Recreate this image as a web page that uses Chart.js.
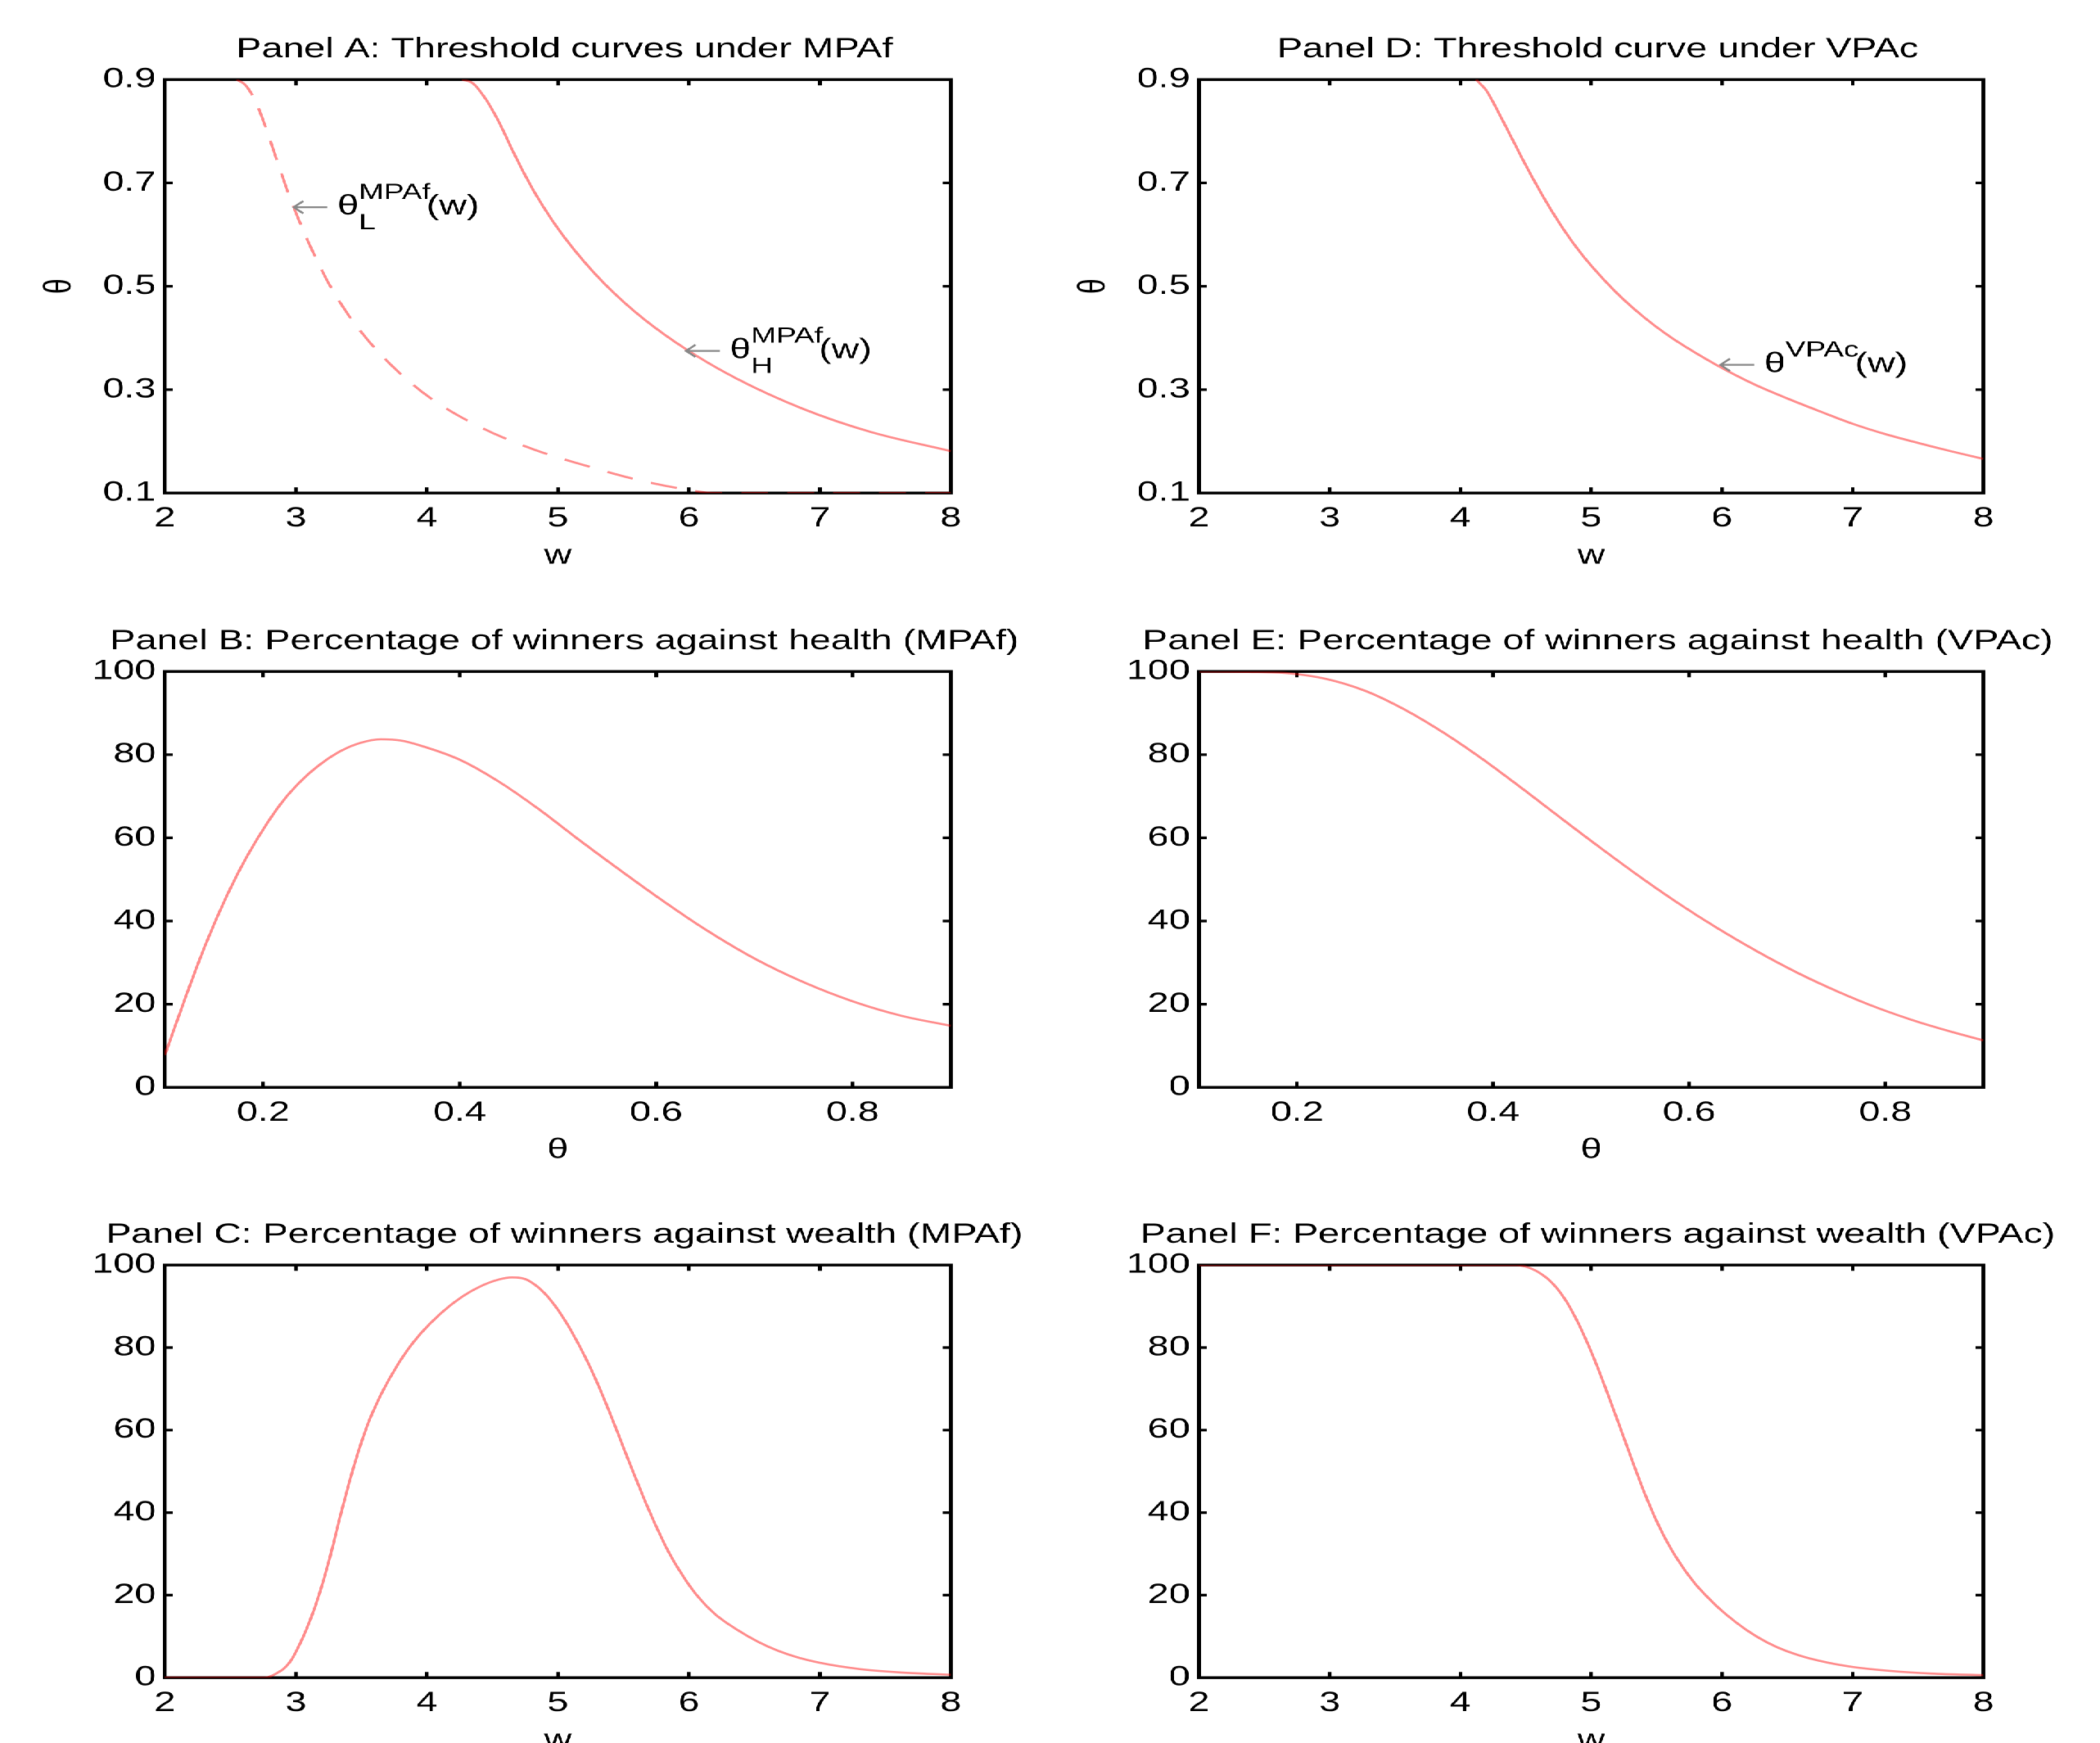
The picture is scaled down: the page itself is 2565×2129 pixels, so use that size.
<!DOCTYPE html>
<html><head><meta charset="utf-8">
<script src="https://cdn.jsdelivr.net/npm/chart.js@4.4.1/dist/chart.umd.min.js"></script>
<style>
html,body{margin:0;padding:0;background:#fff;overflow:hidden;width:2565px;height:2129px}
#stage{position:absolute;left:0;top:0;width:1873px;height:2129px;transform:scaleX(1.37);transform-origin:0 0}
#stage canvas{position:absolute}
</style></head><body><div id="stage"></div>
<script>
// ---------------- data ----------------
const panelTitles = [
  'Panel A: Threshold curves under MPAf',
  'Panel B: Percentage of winners against health (MPAf)',
  'Panel C: Percentage of winners against wealth (MPAf)',
  'Panel D: Threshold curve under VPAc',
  'Panel E: Percentage of winners against health (VPAc)',
  'Panel F: Percentage of winners against wealth (VPAc)'
];
const wTicks = [2, 3, 4, 5, 6, 7, 8];
const wTickLabels = ['2', '3', '4', '5', '6', '7', '8'];
const thetaTicks = [0.1, 0.3, 0.5, 0.7, 0.9];
const thetaTickLabels = ['0.1', '0.3', '0.5', '0.7', '0.9'];
const healthTicks = [0.2, 0.4, 0.6, 0.8];
const healthTickLabels = ['0.2', '0.4', '0.6', '0.8'];
const pctTicks = [0, 20, 40, 60, 80, 100];
const pctTickLabels = ['0', '20', '40', '60', '80', '100'];

// Panel A: threshold curves under MPAf
const wLowMPAf = [2.55, 2.62, 2.70, 2.78, 2.86, 2.95, 3.05, 3.15, 3.25, 3.40, 3.58, 3.81, 4.06, 4.42, 4.83, 5.24, 5.60, 5.95, 6.20, 8.0];
const thetaLowMPAf = [0.9, 0.888, 0.853, 0.80, 0.74, 0.675, 0.612, 0.556, 0.506, 0.445, 0.387, 0.328, 0.278, 0.226, 0.183, 0.151, 0.126, 0.108, 0.1, 0.1];
const wHighMPAf = [4.27, 4.35, 4.45, 4.55, 4.65, 4.75, 4.85, 5.0, 5.2, 5.4, 5.65, 5.98, 6.36, 6.87, 7.39, 8.0];
const thetaHighMPAf = [0.9, 0.893, 0.862, 0.818, 0.765, 0.715, 0.670, 0.612, 0.548, 0.494, 0.438, 0.378, 0.322, 0.263, 0.218, 0.181];

// Panel B: % winners against health (MPAf)
const thetaB = [0.1, 0.12, 0.14, 0.16, 0.18, 0.20, 0.22, 0.24, 0.26, 0.28, 0.30, 0.32, 0.34, 0.36, 0.40, 0.44, 0.48, 0.52, 0.56, 0.60, 0.65, 0.70, 0.75, 0.80, 0.85, 0.9];
const pctB = [7.8, 21, 33.5, 44.5, 54, 62, 68.8, 74, 78, 81, 82.9, 83.7, 83.4, 82.2, 78.8, 73.5, 67, 59.8, 52.8, 46.0, 38.0, 31.0, 25.3, 20.7, 17.2, 14.8];

// Panel C: % winners against wealth (MPAf)
const wC = [2.0, 2.76, 2.85, 2.95, 3.05, 3.15, 3.25, 3.35, 3.45, 3.55, 3.65, 3.75, 3.85, 3.95, 4.10, 4.25, 4.40, 4.55, 4.65, 4.75, 4.85, 4.95, 5.05, 5.15, 5.25, 5.35, 5.45, 5.55, 5.65, 5.75, 5.85, 5.95, 6.05, 6.20, 6.40, 6.60, 6.80, 7.0, 7.3, 7.6, 8.0];
const pctC = [0, 0, 1.0, 3.6, 9.5, 17.5, 28, 40.5, 52, 61.5, 68.6, 74.4, 79.3, 83.3, 88.1, 91.9, 94.7, 96.5, 97.0, 96.6, 94.6, 91.3, 86.8, 81.3, 75, 67.8, 59.9, 51.8, 44, 36.7, 30.2, 24.9, 20.4, 15.4, 11.0, 7.6, 5.2, 3.6, 2.1, 1.3, 0.7];

// Panel D: threshold curve under VPAc
const wVPAc = [4.12, 4.20, 4.30, 4.40, 4.50, 4.60, 4.70, 4.80, 4.90, 5.0, 5.2, 5.4, 5.6, 5.8, 6.0, 6.25, 6.5, 6.75, 7.0, 7.25, 7.5, 7.75, 8.0];
const thetaVPAc = [0.9, 0.878, 0.832, 0.783, 0.734, 0.688, 0.645, 0.606, 0.571, 0.54, 0.486, 0.441, 0.403, 0.371, 0.342, 0.31, 0.283, 0.258, 0.234, 0.214, 0.197, 0.181, 0.166];

// Panel E: % winners against health (VPAc)
const thetaE = [0.1, 0.15, 0.19, 0.23, 0.27, 0.31, 0.35, 0.39, 0.43, 0.47, 0.51, 0.55, 0.59, 0.63, 0.67, 0.71, 0.75, 0.79, 0.83, 0.87, 0.9];
const pctE = [100, 99.9, 99.6, 98.2, 95.3, 90.8, 85.2, 78.8, 71.8, 64.6, 57.5, 50.6, 44.1, 38.1, 32.6, 27.6, 23.2, 19.3, 16.0, 13.2, 11.3];

// Panel F: % winners against wealth (VPAc)
const wF = [2.0, 4.42, 4.50, 4.60, 4.70, 4.80, 4.90, 5.0, 5.1, 5.2, 5.3, 5.4, 5.5, 5.6, 5.7, 5.8, 5.9, 6.0, 6.2, 6.4, 6.6, 6.8, 7.0, 7.3, 7.6, 8.0];
const pctF = [100, 100, 99.6, 98.2, 95.7, 91.7, 86, 79, 71, 62.5, 53.8, 45.4, 38, 31.8, 26.8, 22.6, 19.2, 16.2, 11.3, 7.7, 5.3, 3.7, 2.6, 1.6, 1.0, 0.6];

// curve labels (arrow tip in data units)
const notesA = [{w: 2.975, theta: 0.653, sup: 'MPAf', sub: 'L'}, {w: 5.97, theta: 0.375, sup: 'MPAf', sub: 'H'}];
const notesD = [{w: 5.98, theta: 0.348, sup: 'VPAc', sub: ''}];

// ---------------- layout / style ----------------
const S = 1.37;
const FONT = '"Liberation Sans", Arial, Helvetica, sans-serif';
const FS = 34;
const RED = 'rgba(255,0,0,0.45)';
const COLS = [{l: 202 / S, r: 1162 / S}, {l: 1465 / S, r: 2423 / S}];
const ROWS = [{t: 97, b: 602}, {t: 820, b: 1328}, {t: 1545, b: 2049}];
const AXIS_W = 140, TITLE_H = 57.2, XAXIS_H = 110;

Chart.defaults.font.family = FONT;
Chart.defaults.color = '#000';

const pts = (xs, ys) => xs.map((x, i) => ({x: x, y: ys[i]}));

const framePlugin = {
  id: 'frame',
  beforeDatasetsDraw(chart) {
    const {ctx, chartArea: a, scales: {x, y}} = chart;
    ctx.save();
    ctx.strokeStyle = '#000';
    ctx.lineWidth = 3.4;
    ctx.lineCap = 'butt';
    ctx.strokeRect(a.left, a.top, a.right - a.left, a.bottom - a.top);
    const L = 7;
    ctx.lineWidth = 3.2;
    ctx.beginPath();
    x.ticks.forEach(t => {
      const p = x.getPixelForValue(t.value);
      if (p <= a.left + 2 || p >= a.right - 2) return;
      ctx.moveTo(p, a.bottom); ctx.lineTo(p, a.bottom - L);
      ctx.moveTo(p, a.top); ctx.lineTo(p, a.top + L);
    });
    y.ticks.forEach(t => {
      const p = y.getPixelForValue(t.value);
      if (p <= a.top + 2 || p >= a.bottom - 2) return;
      ctx.moveTo(a.left, p); ctx.lineTo(a.left + L, p);
      ctx.moveTo(a.right, p); ctx.lineTo(a.right - L, p);
    });
    ctx.stroke();
    ctx.restore();
  },
  afterLayout(chart) {
    const tb = chart.titleBlock;
    if (tb) { tb.left -= 300 - 5.8; tb.right += 300 + 5.8; }
  }
};

function notePlugin(notes) {
  return {
    id: 'notes',
    afterDatasetsDraw(chart) {
      const {ctx, scales: {x, y}} = chart;
      notes.forEach(n => {
        const tx = x.getPixelForValue(n.w), ty = y.getPixelForValue(n.theta);
        ctx.save();
        ctx.strokeStyle = '#888';
        ctx.lineWidth = 2.2;
        ctx.beginPath();
        ctx.moveTo(tx + 1, ty); ctx.lineTo(tx + 31, ty);
        ctx.moveTo(tx + 9.5, ty - 7.5); ctx.lineTo(tx + 1, ty); ctx.lineTo(tx + 9.5, ty + 7.5);
        ctx.stroke();
        ctx.fillStyle = '#000';
        ctx.textAlign = 'left';
        ctx.textBaseline = 'alphabetic';
        const bx = tx + 40, by = ty + 9;
        ctx.font = FS + 'px ' + FONT;
        ctx.fillText('θ', bx, by);
        const sx = bx + ctx.measureText('θ').width;
        ctx.font = '27px ' + FONT;
        let w = 0;
        if (n.sup) { ctx.fillText(n.sup, sx, by - 19); w = Math.max(w, ctx.measureText(n.sup).width); }
        if (n.sub) { ctx.fillText(n.sub, sx, by + 18); w = Math.max(w, ctx.measureText(n.sub).width); }
        ctx.font = FS + 'px ' + FONT;
        ctx.fillText('(w)', sx + w - 3.6, by);
        ctx.restore();
      });
    }
  };
}

function line(data, dashed) {
  return {
    data: data, borderColor: RED, borderWidth: 2.6, pointRadius: 0, fill: false,
    cubicInterpolationMode: 'monotone', borderDash: dashed ? [24, 17] : [],
    borderCapStyle: 'butt'
  };
}

function makeAxis(min, max, ticks, labels, isX, titleText) {
  const ax = {
    type: 'linear', min: min, max: max,
    afterBuildTicks: s => { s.ticks = ticks.map(v => ({value: v})); },
    grid: {display: false, drawTicks: false},
    border: {display: false},
    ticks: {
      padding: isX ? 11 : 8, autoSkip: false, maxRotation: 0, minRotation: 0,
      font: {size: FS, family: FONT, lineHeight: 1.2}, color: '#000',
      callback: (v, i) => labels[i]
    },
    title: titleText ? {
      display: true, text: titleText, color: '#000',
      font: {size: FS, family: FONT, lineHeight: 1.2},
      padding: isX ? {top: 0, bottom: 12.6} : {top: 26, bottom: 0}
    } : {display: false}
  };
  if (isX) ax.afterFit = s => { s.height = XAXIS_H; };
  else ax.afterFit = s => { s.width = AXIS_W; };
  return ax;
}

function addChart(p) {
  const col = COLS[p.col], row = ROWS[p.row];
  const plotW = col.r - col.l, plotH = row.b - row.t;
  const W = Math.ceil(AXIS_W + plotW + 100);
  const H = Math.ceil(TITLE_H + plotH + XAXIS_H + 2);
  const c = document.createElement('canvas');
  c.width = W; c.height = H;
  c.style.left = (col.l - AXIS_W) + 'px';
  c.style.top = (row.t - TITLE_H) + 'px';
  c.style.width = W + 'px';
  c.style.height = H + 'px';
  document.getElementById('stage').appendChild(c);
  const plugins = [framePlugin];
  if (p.notes) plugins.push(notePlugin(p.notes));
  new Chart(c, {
    type: 'line',
    data: {datasets: p.datasets},
    plugins: plugins,
    options: {
      responsive: false, animation: false, devicePixelRatio: 2,
      layout: {padding: {left: 0, top: 0, right: W - AXIS_W - plotW, bottom: H - TITLE_H - plotH - XAXIS_H}},
      plugins: {
        legend: {display: false}, tooltip: {enabled: false},
        title: {
          display: true, text: p.title, fullSize: false, color: '#000',
          font: {size: FS, family: FONT, lineHeight: 1.2, weight: 'normal'},
          padding: {top: 0, bottom: TITLE_H - FS * 1.2}
        }
      },
      scales: {
        x: makeAxis(p.xr[0], p.xr[1], p.xt, p.xl, true, p.xTitle),
        y: makeAxis(p.yr[0], p.yr[1], p.yt, p.yl, false, p.yTitle)
      }
    }
  });
}

const panels = [
  {col: 0, row: 0, title: panelTitles[0], xr: [2, 8], xt: wTicks, xl: wTickLabels, yr: [0.1, 0.9], yt: thetaTicks, yl: thetaTickLabels,
   xTitle: 'w', yTitle: 'θ', notes: notesA,
   datasets: [line(pts(wLowMPAf, thetaLowMPAf), true), line(pts(wHighMPAf, thetaHighMPAf), false)]},
  {col: 0, row: 1, title: panelTitles[1], xr: [0.1, 0.9], xt: healthTicks, xl: healthTickLabels, yr: [0, 100], yt: pctTicks, yl: pctTickLabels,
   xTitle: 'θ', yTitle: '', datasets: [line(pts(thetaB, pctB), false)]},
  {col: 0, row: 2, title: panelTitles[2], xr: [2, 8], xt: wTicks, xl: wTickLabels, yr: [0, 100], yt: pctTicks, yl: pctTickLabels,
   xTitle: 'w', yTitle: '', datasets: [line(pts(wC, pctC), false)]},
  {col: 1, row: 0, title: panelTitles[3], xr: [2, 8], xt: wTicks, xl: wTickLabels, yr: [0.1, 0.9], yt: thetaTicks, yl: thetaTickLabels,
   xTitle: 'w', yTitle: 'θ', notes: notesD,
   datasets: [line(pts(wVPAc, thetaVPAc), false)]},
  {col: 1, row: 1, title: panelTitles[4], xr: [0.1, 0.9], xt: healthTicks, xl: healthTickLabels, yr: [0, 100], yt: pctTicks, yl: pctTickLabels,
   xTitle: 'θ', yTitle: '', datasets: [line(pts(thetaE, pctE), false)]},
  {col: 1, row: 2, title: panelTitles[5], xr: [2, 8], xt: wTicks, xl: wTickLabels, yr: [0, 100], yt: pctTicks, yl: pctTickLabels,
   xTitle: 'w', yTitle: '', datasets: [line(pts(wF, pctF), false)]}
];
panels.forEach(addChart);
</script>
</body></html>
